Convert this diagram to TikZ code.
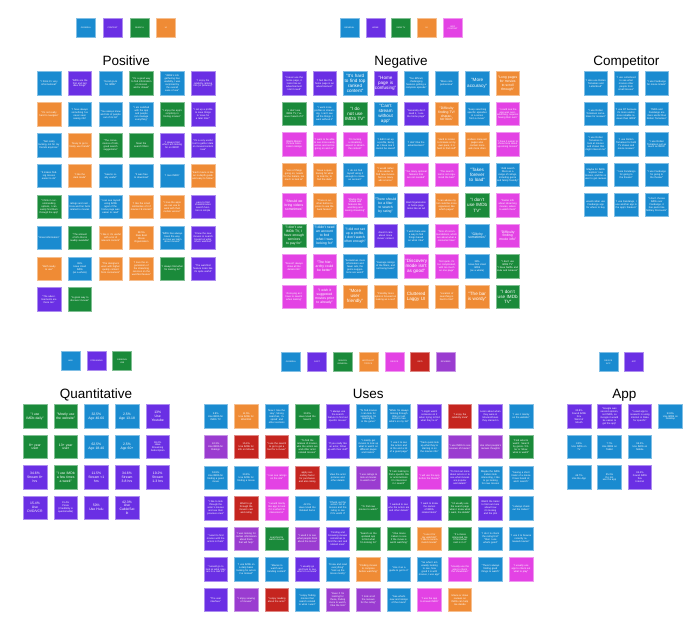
\documentclass[tikz,border=0pt]{standalone}
\usepackage{fontspec}
\setmainfont{Liberation Sans}
\definecolor{cb}{HTML}{1A8BD0}
\definecolor{cp}{HTML}{6A2FE4}
\definecolor{cg}{HTML}{1A8A3A}
\definecolor{co}{HTML}{EF8B35}
\definecolor{cm}{HTML}{E342E4}
\definecolor{cr}{HTML}{C5251F}
\definecolor{cv}{HTML}{9A3CD0}
\tikzset{
  stick/.style={fill=#1, draw=#1!55!white, line width=0.5pt, minimum width=23.5pt, minimum height=23.5pt, inner sep=0.6pt, text width=21.5pt, align=center, text=white, font=\fontsize{2.5}{2.95}\selectfont},
  bigtxt/.style={font=\fontsize{4.6}{5.1}\selectfont},
  midtxt/.style={font=\fontsize{3.4}{3.9}\selectfont},
  legbox/.style={fill=#1, draw=#1!55!white, line width=0.5pt, minimum width=19pt, minimum height=19pt, inner sep=0.4pt, text width=17.5pt, align=center, text=white, font=\fontsize{2.1}{2.5}\selectfont},
  sectitle/.style={font=\fontsize{13.5}{15}\selectfont, text=black, anchor=base, inner sep=0pt}
}
\begin{document}
\begin{tikzpicture}[x=1pt,y=-1pt]
\useasboundingbox[fill=white] (0,0) rectangle (688,639);

%% ---------------- Titles ----------------
\node[sectitle] (tpos) at (126.3,65.5) {Positive};
\node[sectitle] (tneg) at (401,65.5) {Negative};
\node[sectitle] (tcomp) at (626.3,65.5) {Competitor};
\node[sectitle] (tquant) at (96,398.5) {Quantitative};
\node[sectitle] (tuses) at (368.3,398.5) {Uses};
\node[sectitle] (tapp) at (624.3,398.5) {App};

%% ---------------- Legends ----------------
\node[legbox=cb] (lp1) at (86,27.7) {GENERAL};
\node[legbox=cp] (lp2) at (112.6,27.7) {CONTENT};
\node[legbox=cg] (lp3) at (139.4,27.7) {SEARCH};
\node[legbox=co] (lp4) at (166,27.7) {UI};

\node[legbox=cb] (ln1) at (349.3,27.7) {GENERAL};
\node[legbox=cp] (ln2) at (375.3,27.7) {HOME};
\node[legbox=cg] (ln3) at (401,27.7) {IMDB TV};
\node[legbox=co] (ln4) at (426.7,27.7) {UI};
\node[legbox=cm] (ln5) at (452.7,27.7) {INFO\\CONTENT};

\node[legbox=cb] (lq1) at (70.5,361.2) {AGE};
\node[legbox=cp] (lq2) at (96.5,361.2) {STREAMING};
\node[legbox=cg] (lq3) at (122.2,361.2) {GENERAL\\USE};

\node[legbox=cb] (lu1) at (291,362.2) {GENERAL};
\node[legbox=cp] (lu2) at (317,362.2) {CAST};
\node[legbox=cg] (lu3) at (342.7,362.2) {SEARCH\\GENERAL};
\node[legbox=co] (lu4) at (368.3,362.2) {WATCHLIST\\TOPICS};
\node[legbox=cm] (lu5) at (394.3,362.2) {DEVICE};
\node[legbox=cr] (lu6) at (420,362.2) {INFO};
\node[legbox=cv] (lu7) at (445.7,362.2) {REVIEWS};

\node[legbox=cb] (la1) at (608.3,362.2) {DEVICE\\APP};
\node[legbox=cp] (la2) at (634,362.2) {APP};

%% ---------------- Positive ----------------
\begin{scope}[shift={(49,83.4)}, x=30.8pt, y=-30.85pt]
\node[stick=cb] (p00) at (0,0) {"I think it's very informational"};
\node[stick=cp] (p10) at (1,0) {"IMDb are the first and last idea things"};
\node[stick=cb] (p20) at (2,0) {"Good go-to for IMDb"};
\node[stick=cg] (p30) at (3,0) {"It's a good way to find information on movies and tv shows"};
\node[stick=cb] (p40) at (4,0) {"IMDb's info gathering has usability, I was surprised by the overall ease of use"};
\node[stick=cp] (p50) at (5,0) {"I enjoy the celebrity ranking info (in pictures)"};
\node[stick=co] (p01) at (0,1) {"It's not really hard to navigate"};
\node[stick=cb] (p11) at (1,1) {"I have always something I've never seen seeing info"};
\node[stick=cb] (p21) at (2,1) {"You always know and lots of people out of its list"};
\node[stick=cb] (p31) at (3,1) {"I am satisfied with the app and people can manage everything"};
\node[stick=cg] (p41) at (4,1) {"I enjoy the app's simplicity in finding movies"};
\node[stick=cp] (p51) at (5,1) {"I set up a profile to save things to 'save for a later time'"};
\node[stick=cb] (p02) at (0,2) {"Not really lacking, not for my friends anymore"};
\node[stick=co] (p12) at (1,2) {"Easy to go to finally use friends"};
\node[stick=cg] (p22) at (2,2) {"The convenience of lists, good search suggestions"};
\node[stick=cg] (p32) at (3,2) {Meet the search filters};
\node[stick=cp] (p42) at (4,2) {"I always find what I am looking for on IMDb"};
\node[stick=cp] (p52) at (5,2) {"It's a very useful tool to gather data on movies/content I see"};
\node[stick=cb] (p03) at (0,3) {"It makes finding movies easier to do"};
\node[stick=co] (p13) at (1,3) {"I like the dark mode"};
\node[stick=cb] (p23) at (2,3) {"Seems really useful"};
\node[stick=cb] (p33) at (3,3) {"It was free to download"};
\node[stick=cb] (p43) at (4,3) {"I love IMDb"};
\node[stick=co] (p53) at (5,3) {"Each movie is like an in-depth guide and easy to follow"};
\node[stick=cg] (p04) at (0,4) {"I think in recommending options, I can easily find them through the app"};
\node[stick=cb] (p14) at (1,4) {ratings and cast - trivia and fun facts related to movies};
\node[stick=cb] (p24) at (2,4) {"I can see myself using IMDb again if the home page was easier to read"};
\node[stick=co] (p34) at (3,4) {"I like the small similarities of it if movies I'd interest"};
\node[stick=co] (p44) at (4,4) {"I love the apps we can use to work with their mobile version"};
\node[stick=cp] (p54) at (5,4) {easy to find shows/movies search function is simple};
\node[stick=cb] (p05) at (0,5) {"Great information"};
\node[stick=cg] (p15) at (1,5) {"The amount of info that is readily available"};
\node[stick=co] (p25) at (2,5) {"I like it, it's useful with a lot of relevant content"};
\node[stick=co] (p35) at (3,5) {38.5\%\\Rate Best\\Movie\\Organization};
\node[stick=cb] (p45) at (4,5) {"IMDb has always been the way on how we learn about movies"};
\node[stick=cp] (p55) at (5,5) {"Know the new movies or search based on what others watched"};
\node[stick=co] (p06) at (0,6) {"Both ready to use"};
\node[stick=cb] (p16) at (1,6) {69\%\\Have Used\\IMDb\\(as a whole)};
\node[stick=co] (p26) at (2,6) {"The designers work with higher quality content from consumers"};
\node[stick=co] (p36) at (3,6) {"I love the organization of the streaming services on the watchlist feature"};
\node[stick=cg] (p46) at (4,6) {"I always find what I'm looking for"};
\node[stick=cp] (p56) at (5,6) {"The watchlist feature looks like it's quite useful"};
\node[stick=cp] (p07) at (0,7) {"The advertisements are there too"};
\node[stick=cg] (p17) at (1,7) {"A great way to discover movies"};
\end{scope}

%% ---------------- Negative ----------------
\begin{scope}[shift={(294,83.4)}, x=30.53pt, y=-30.47pt]
\node[stick=cp] (n00) at (0,0) {"I never use the home page, it looks like an advertisement I don't need"};
\node[stick=cp] (n10) at (1,0) {"I feel like the home page is an advertisement"};
\node[stick=cb,bigtxt] (n20) at (2,0) {"It's hard to find top ranked content"};
\node[stick=cp,bigtxt] (n30) at (3,0) {"Home page is confusing"};
\node[stick=cb] (n40) at (4,0) {"Too difficult, challenging features getting a complete episode"};
\node[stick=cb] (n50) at (5,0) {"More comprehensive"};
\node[stick=cb,bigtxt] (n60) at (6,0) {"More accuracy"};
\node[stick=co,midtxt] (n70) at (7,0) {"Long pages for movies to scroll through"};
\node[stick=cg] (n01) at (0,1) {"I don't use IMDb TV, I've never heard of it"};
\node[stick=cb] (n11) at (1,1) {"I want more profiles in streaming, I can't see all the things I want without it"};
\node[stick=cg,bigtxt] (n21) at (2,1) {"I do not use IMDb TV"};
\node[stick=cb,bigtxt] (n31) at (3,1) {"Can't stream without app"};
\node[stick=cp] (n41) at (4,1) {"Generally don't need it, I use the home page"};
\node[stick=co,midtxt] (n51) at (5,1) {"Difficulty finding TV/ character bios"};
\node[stick=cb] (n61) at (6,1) {"Keep searching specific episodes in a series from a movie"};
\node[stick=cm] (n71) at (7,1) {"I could see the app was overwhelming, requires having their own"};
\node[stick=cm] (n02) at (0,2) {Wants Motion Picture Association ratings};
\node[stick=cm] (n12) at (1,2) {"I want to be able to see more easily actors and not be going on and on"};
\node[stick=cm] (n22) at (2,2) {"It's lacking a streaming aspect to stream the content"};
\node[stick=cb] (n32) at (3,2) {"I didn't set up a profile, being as I have one it cannot be saved"};
\node[stick=cb] (n42) at (4,2) {"I don't like the advertisement"};
\node[stick=co] (n52) at (5,2) {"Hard to locate: to browse at my own pace, it is hard to find stuff"};
\node[stick=co] (n62) at (6,2) {endless irrelevant pages also contain more ads more often};
\node[stick=cm] (n72) at (7,2) {"I have it easier to show more about upcoming movies"};
\node[stick=co] (n03) at (0,3) {"Lots of things going on, needs for the trailers, too much to look at"};
\node[stick=co] (n13) at (1,3) {"Have a questioning for what to look for, to find the data"};
\node[stick=cb] (n23) at (2,3) {"I do not find myself using it enough to create an account"};
\node[stick=co] (n33) at (3,3) {"I would rather it be easier to find new movies. Not too many ads at once"};
\node[stick=cm] (n43) at (4,3) {"Too many optional features that are not needed"};
\node[stick=cm] (n53) at (5,3) {"The search tool is not organized the best"};
\node[stick=cb,bigtxt] (n63) at (6,3) {"Takes forever to load"};
\node[stick=cb] (n73) at (7,3) {"Add search filters as a range of ratings, including genre and family friendly"};
\node[stick=cm,midtxt] (n04) at (0,4) {"Should we bring videos sometimes"};
\node[stick=co] (n14) at (1,4) {"There is another button to press to use the back feature"};
\node[stick=cm] (n24) at (2,4) {"Maybe they should add features like watching and seeing streaming"};
\node[stick=cb,midtxt] (n34) at (3,4) {"There should be a filter to search by rating"};
\node[stick=cp] (n44) at (4,4) {Bad Organization in home page looks like an ad};
\node[stick=co] (n54) at (5,4) {"I can advise my list could be more organized, like which pages"};
\node[stick=cg,bigtxt] (n64) at (6,4) {"I don't use IMDb TV"};
\node[stick=cm] (n74) at (7,4) {"Faster info about streaming movies, where to watch them"};
\node[stick=cg,midtxt] (n05) at (0,5) {"I don't use IMDb TV, I have enough services to pay for"};
\node[stick=cb,midtxt] (n15) at (1,5) {"I didn't need an account to find what I was looking for"};
\node[stick=cb,midtxt] (n25) at (2,5) {"I did not set up a profile, I don't watch often enough"};
\node[stick=cp] (n35) at (3,5) {doesn't care about 'since movie' content};
\node[stick=cb] (n45) at (4,5) {"I wish there was a way to find things based on what I like"};
\node[stick=cm] (n55) at (5,5) {"Tons of recommendations, which are about what a consumer likes"};
\node[stick=cb,midtxt] (n65) at (6,5) {"Glitchy sometimes"};
\node[stick=cm,midtxt] (n75) at (7,5) {"Difficulty finding movie info"};
\node[stick=cm] (n06) at (0,6) {"Doesn't always show all the details info"};
\node[stick=cm,midtxt] (n16) at (1,6) {"The hierarchy could be better"};
\node[stick=cb] (n26) at (2,6) {"Sometimes more information and fewer ads, the genre suggestions are weird"};
\node[stick=cb] (n36) at (3,6) {"Average ratings of the filters, and not being faster"};
\node[stick=cm,bigtxt] (n46) at (4,6) {"Discovery mode isn't as good"};
\node[stick=cm] (n56) at (5,6) {"Not quite, it's too complicated, with too much on one page"};
\node[stick=cb] (n66) at (6,6) {38\%\\Have Not Used\\IMDb\\(as a whole)};
\node[stick=cg] (n76) at (7,6) {"I don't use IMDb TV"\\"I have Netflix and Hulu and Amazon"};
\node[stick=cm] (n07) at (0,7) {"Annoying as I have to search when looking"};
\node[stick=cm,midtxt] (n17) at (1,7) {"I wish it suggested movies prior to already"};
\node[stick=co,bigtxt] (n27) at (2,7) {"More user friendly"};
\node[stick=co] (n37) at (3,7) {"Possibly more options focused on looking as a rest"};
\node[stick=co,bigtxt] (n47) at (4,7) {Cluttered Laggy UI};
\node[stick=co] (n57) at (5,7) {"Location of searching is hard to find"};
\node[stick=co,bigtxt] (n67) at (6,7) {"The bar is wordy"};
\node[stick=cg,bigtxt] (n77) at (7,7) {"I don't use IMDb TV"};
\end{scope}

%% ---------------- Competitor ----------------
\begin{scope}[shift={(595.7,83.4)}, x=30.5pt, y=-30.4pt]
\node[stick=cb] (c00) at (0,0) {"I also use Rotten Tomatoes and Letterboxd"};
\node[stick=cb] (c10) at (1,0) {"I use Letterboxd to see what movies other people from small movies"};
\node[stick=cb] (c20) at (2,0) {"I use Fandango for movie tickets"};
\node[stick=cb] (c01) at (0,1) {"I use Rotten Tomatoes sometimes for reviews"};
\node[stick=cb] (c11) at (1,1) {"I use RT because it's more useful, more reliable reviews than IMDb"};
\node[stick=cb] (c21) at (2,1) {"IMDb and Fandango are more useful than Rotten Tomatoes"};
\node[stick=cb] (c02) at (0,2) {"I use Rotten Tomatoes to look at movies and shows that might interest me"};
\node[stick=cb] (c12) at (1,2) {"I use Rotten Tomatoes for both TV shows and movie reviews"};
\node[stick=cb] (c22) at (2,2) {"I use Rotten Tomatoes just as much as IMDb"};
\node[stick=cb] (c03) at (0,3) {Maybe for IMDb 'explore' new movies, and this is user to get reviews};
\node[stick=cb] (c13) at (1,3) {"I use Fandango for going to the theater"};
\node[stick=cb] (c23) at (2,3) {"I use Fandango for going to the theater"};
\node[stick=cb] (c04) at (0,4) {would rather use Fandango app for where to buy};
\node[stick=cb] (c14) at (1,4) {"I use Fandango, I use another app in the app's theaters"};
\node[stick=cb] (c24) at (2,4) {"I don't choose IMDb over Fandango, it has perks like Military Discounts"};
\end{scope}

%% ---------------- Quantitative ----------------
\begin{scope}[shift={(35,416.4)}, x=30.67pt, y=-30.43pt]
\node[stick=cg,midtxt] (q00) at (0,0) {"I use IMDb daily"};
\node[stick=cg,midtxt] (q10) at (1,0) {"Mostly use the website"};
\node[stick=cb,midtxt] (q20) at (2,0) {32.5\%\\Age 40-60};
\node[stick=cb,midtxt] (q30) at (3,0) {2.5\%\\Age 13-18};
\node[stick=cp,midtxt] (q40) at (4,0) {13\%\\Use\\Youtube};
\node[stick=cg,midtxt] (q01) at (0,1) {8+ year\\user};
\node[stick=cg,midtxt] (q11) at (1,1) {13+ year\\user};
\node[stick=cb,midtxt] (q21) at (2,1) {62.5\%\\Age 18-40};
\node[stick=cb,midtxt] (q31) at (3,1) {2.5\%\\Age 60+};
\node[stick=cp] (q41) at (4,1) {96.2\%\\Have\\Streaming\\Subscription};
\node[stick=cp,midtxt] (q02) at (0,2) {34.6\%\\Stream 8+\\hrs};
\node[stick=cg,midtxt] (q12) at (1,2) {"I use IMDb a few times a week"};
\node[stick=cp,midtxt] (q22) at (2,2) {11.5\%\\Stream <1\\hrs};
\node[stick=cp,midtxt] (q32) at (3,2) {34.6\%\\Stream\\3-8 hrs};
\node[stick=cp,midtxt] (q42) at (4,2) {19.2\%\\Stream\\1-3 hrs};
\node[stick=cp,midtxt] (q03) at (0,3) {15.4\%\\Use\\DVD/VCR};
\node[stick=cp] (q13) at (1,3) {15.4\%\\Pirate\\(Credibility is\\questionable)};
\node[stick=cp,midtxt] (q23) at (2,3) {50\%\\Use Hulu};
\node[stick=cp,midtxt] (q33) at (3,3) {42.3\%\\Use\\Cable/Sat\\lit};
\end{scope}

%% ---------------- Uses ----------------
\begin{scope}[shift={(215.7,416.4)}, x=30.53pt, y=-30.55pt]
\node[stick=cb] (u00) at (0,0) {3.8\%\\Use IMDb for\\IMDb TV};
\node[stick=co] (u10) at (1,0) {11.5\%\\Use IMDb for\\Watchlist};
\node[stick=cb] (u20) at (2,0) {Now I 'rate the Hey', Strong searches, 'inspired' and other sections};
\node[stick=cg] (u30) at (3,0) {30.8\%\\Have Used the\\Search};
\node[stick=cp] (u40) at (4,0) {"I always use the search feature to find out specific movies"};
\node[stick=cb] (u50) at (5,0) {"To find movies I can look for something I'm looking for, or the genre"};
\node[stick=cb] (u60) at (6,0) {"While I'm always looking through titles or just scroll to see what's on my list"};
\node[stick=cp] (u70) at (7,0) {"I might watch someone on it when trying to find what they're in"};
\node[stick=cr] (u80) at (8,0) {"I enjoy the celebrity trivia"};
\node[stick=cp] (u90) at (9,0) {Learn about when they were in Movies/shows they starred in};
\node[stick=cb] (u100) at (10,0) {"I use it mainly on the website"};
\node[stick=cv] (u01) at (0,1) {42.3\%\\Use IMDb for\\Ratings};
\node[stick=cr] (u11) at (1,1) {15.4\%\\Use IMDb for\\info on Movies};
\node[stick=cr] (u21) at (2,1) {"I use the search to go to get a feel for a movie"};
\node[stick=cg] (u31) at (3,1) {"To find the release of movies, who the actors are and other actor related movies"};
\node[stick=cp] (u41) at (4,1) {"If you really like an actor, follow up with their stuff"};
\node[stick=cb] (u51) at (5,1) {"I mostly get movies to look up what to watch on different pages and trailers"};
\node[stick=cb] (u61) at (6,1) {"I use it to see the actors and at the end a lot of a good page"};
\node[stick=cb] (u71) at (7,1) {"Track quick look up what they're starring in on the movies info"};
\node[stick=cv] (u81) at (8,1) {"I use IMDb to see reviews of movies"};
\node[stick=cv] (u91) at (9,1) {Use other people's reviews thoughts};
\node[stick=cg] (u101) at (10,1) {"Find what to watch: Search by genre / Filter or Show what to watch"};
\node[stick=cb] (u02) at (0,2) {53.8\%\\Use IMDb for\\finding a good\\movie};
\node[stick=cb] (u12) at (1,2) {30.8\%\\Use IMDb for\\finding a movie};
\node[stick=cm] (u22) at (2,2) {"I can see ratings on the site"};
\node[stick=cr] (u32) at (3,2) {apply secondary factor for purchases and also rating};
\node[stick=cb] (u42) at (4,2) {View the actor pictures and other details};
\node[stick=cv] (u52) at (5,2) {"I use ratings to look at movies to watch next"};
\node[stick=cg] (u62) at (6,2) {"If I am looking to find a specific title or actor/actress I'm interested in I search"};
\node[stick=cm] (u72) at (7,2) {"I will use the app before the theater"};
\node[stick=cp] (u82) at (8,2) {"To find out more about actors or to see what movies are popular and details"};
\node[stick=cb] (u92) at (9,2) {Maybe the IMDb trailers look interesting, I like to go looking for new movies};
\node[stick=cb] (u102) at (10,2) {"Seeing a short trailer of a movie I have heard of, and I search"};
\node[stick=cp] (u03) at (0,3) {"I like to look through the actor's movies and see their previous ones"};
\node[stick=cr] (u13) at (1,3) {Want to go through the movie's cast and rating};
\node[stick=cm] (u23) at (2,3) {"I would mainly like app to look if it is what I'm interested in"};
\node[stick=cb] (u33) at (3,3) {42.3\%\\Have Used the\\Related Items};
\node[stick=cb] (u43) at (4,3) {"Check out the actors' list of movies and the rating to see if it's worth it"};
\node[stick=cg] (u53) at (5,3) {"To find new movies to watch"};
\node[stick=cp] (u63) at (6,3) {"I wanted to see who the actors are and other details"};
\node[stick=cp] (u73) at (7,3) {"I want to know the names of IMDb-related items"};
\node[stick=cg] (u83) at (8,3) {"I'd usually use the search page when I know what I want, the details"};
\node[stick=cp] (u93) at (9,3) {Watch the trailer to find out more about how it's looking and the plot};
\node[stick=cb] (u103) at (10,3) {"I always check out the trailers"};
\node[stick=cp] (u04) at (0,4) {"I want to find movies with the actors in them"};
\node[stick=cv] (u14) at (1,4) {"I was looking for certain information about them that will help"};
\node[stick=cg] (u24) at (2,4) {searched to watch movies};
\node[stick=cv] (u34) at (3,4) {"I used it to see what people think about the movie"};
\node[stick=cp] (u44) at (4,4) {"Finding and browsing movies sometimes to find the cast and related ones"};
\node[stick=cg] (u54) at (5,4) {"Search on the updated app to find what I'm looking for"};
\node[stick=cg] (u64) at (6,4) {"I like movie trailers to see if the movie is worth watching"};
\node[stick=co] (u74) at (7,4) {"I use it for my watchlist"\\"I like to recommend movies"};
\node[stick=cg] (u84) at (8,4) {"If a movie interested me I'll find what cast is in it"};
\node[stick=cb] (u94) at (9,4) {"I do it to check the rating first"\\"then I use what's good"};
\node[stick=cb] (u104) at (10,4) {"I use it to browse recently released movies"};
\node[stick=cp] (u05) at (0,5) {"I would go to look at what roles are in a cast list"};
\node[stick=cb] (u15) at (1,5) {"I use IMDb on a daily basis looking for actors I've missed"};
\node[stick=cb] (u25) at (2,5) {"Movies to watch and trending content"};
\node[stick=cp] (u35) at (3,5) {"I usually go and look to see who's in a movie"};
\node[stick=cb] (u45) at (4,5) {"Know and read everything"\\"look up the movie mostly"};
\node[stick=co] (u55) at (5,5) {"Finding movies to compare before watching"};
\node[stick=cb] (u65) at (6,5) {"Use it as a guide to get to it"};
\node[stick=cb] (u75) at (7,5) {"So what I am usually looking to see, how good it is with movies, I use app"};
\node[stick=cm] (u85) at (8,5) {"Usually use the app to check the showtimes"};
\node[stick=cb] (u95) at (9,5) {"There's always finding good things to watch"};
\node[stick=cm] (u105) at (10,5) {"I usually use app to check out what to play"};
\node[stick=cp] (u06) at (0,6) {"The user interface"};
\node[stick=cv] (u16) at (1,6) {"I enjoy viewing of movies"};
\node[stick=cr] (u26) at (2,6) {"I enjoy reading about the actor"};
\node[stick=cb] (u36) at (3,6) {"I enjoy finding movies that search related to what I want"};
\node[stick=cv] (u46) at (4,6) {"Even if I'm looking for these, finding more to watch, I like the lists"};
\node[stick=cv] (u56) at (5,6) {"I look at all the reviews for the rating"};
\node[stick=cb] (u66) at (6,6) {"See what's new and ratings of the movie"};
\node[stick=cm] (u76) at (7,6) {"I use the app to stream IMDb"};
\node[stick=co] (u86) at (8,6) {Movie or show reviews on IMDb can help me decide};
\end{scope}

%% ---------------- App ----------------
\begin{scope}[shift={(579,416.4)}, x=30.47pt, y=-30.5pt]
\node[stick=cp] (a00) at (0,0) {30.8\%\\Found IMDb\\thru\\Word of\\Mouth};
\node[stick=cp] (a10) at (1,0) {"Google was second opinion, not IMDb, so Google it would be easier to get the app"};
\node[stick=cp] (a20) at (2,0) {"I used app to research in using internet in Roku for specific"};
\node[stick=cb] (a30) at (3,0) {53.8\%\\Use IMDb on\\Desktop};
\node[stick=cb] (a01) at (0,1) {3.8\%\\Use IMDb on\\TV};
\node[stick=cb] (a11) at (1,1) {7.7\%\\Use IMDb on\\Tablet};
\node[stick=cb] (a21) at (2,1) {96.2\%\\Use IMDb on\\Mobile};
\node[stick=cb] (a02) at (0,2) {46.7\%\\Use the App};
\node[stick=cb] (a12) at (1,2) {35.3\%\\Do not\\use the app};
\node[stick=cp] (a22) at (2,2) {65.4\%\\Found IMDb\\thru\\Internet};
\end{scope}
\end{tikzpicture}
\end{document}
